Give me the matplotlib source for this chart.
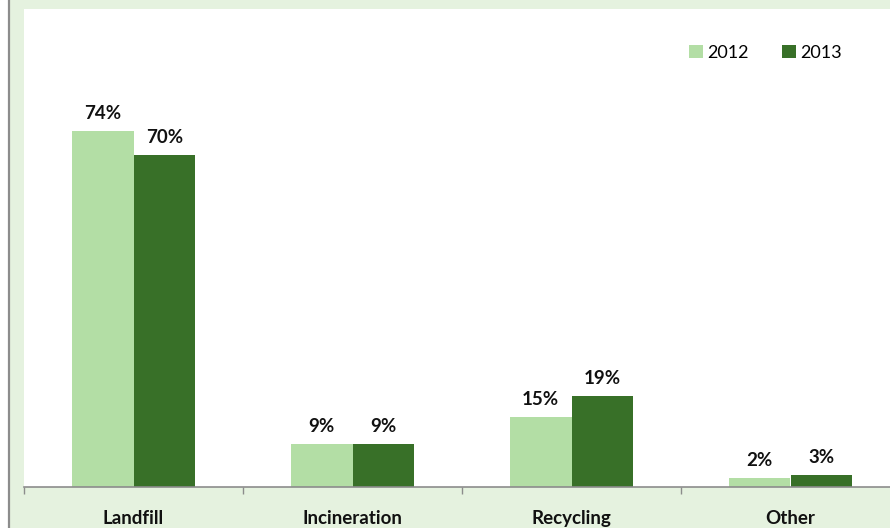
import matplotlib
matplotlib.use("Agg")
import matplotlib.pyplot as plt
from matplotlib.lines import Line2D
from matplotlib.patches import Patch

categories = ["Landfill", "Incineration", "Recycling", "Other"]
years = ["2012", "2013"]
values_2012 = [74.4, 9.0, 14.6, 1.9]
values_2013 = [69.5, 9.0, 19.0, 2.6]
labels_2012 = ["74%", "9%", "15%", "2%"]
labels_2013 = ["70%", "9%", "19%", "3%"]

c2012 = "#b3dea5"
c2013 = "#387028"
bg = "#e5f2df"

W, H = 890, 528
fig = plt.figure(figsize=(W / 100, H / 100), dpi=100)
fig.patch.set_facecolor(bg)
font = ["Lato", "DejaVu Sans"]

# white strip at left and gray rule
fig.add_artist(plt.Rectangle((0, 0), 8 / W, 1, transform=fig.transFigure, color="white", zorder=0))
fig.add_artist(Line2D([9 / W, 9 / W], [0, 1], transform=fig.transFigure, color="#8c8c8c", lw=1.6))

ax = fig.add_axes([24 / W, (H - 487) / H, 876 / W, 478 / H])
ax.set_facecolor("white")

x = list(range(len(categories)))
bw = 0.283
b1 = ax.bar([i - bw / 2 for i in x], values_2012, width=bw, color=c2012, label=years[0])
b2 = ax.bar([i + bw / 2 for i in x], values_2013, width=bw, color=c2013, label=years[1])

for bars, labs in ((b1, labels_2012), (b2, labels_2013)):
    for rect, lab in zip(bars, labs):
        ax.annotate(lab, (rect.get_x() + rect.get_width() / 2, rect.get_height()),
                    xytext=(0, 6.5), textcoords="offset points", ha="center", va="bottom",
                    fontsize=13.5, fontweight="bold", family=font, color="#111111")

ax.set_xlim(-0.5, len(categories) - 0.5)
ax.set_ylim(0, 100)
ax.set_yticks([])
for s in ("top", "right", "left"):
    ax.spines[s].set_visible(False)
ax.spines["bottom"].set_color("#8c8c8c")
ax.spines["bottom"].set_linewidth(1.2)
ax.set_xticks([i - 0.5 for i in range(len(categories) + 1)])
ax.set_xticklabels([])
ax.tick_params(axis="x", direction="out", length=5, width=1, color="#8c8c8c")

for i, c in enumerate(categories):
    ax.annotate(c, (i, 0), xycoords=("data", "axes fraction"), xytext=(0, -22.5),
                textcoords="offset points", ha="center", va="center",
                fontsize=13.5, fontweight="bold", family=font, color="#111111", annotation_clip=False)

handles = [Patch(facecolor=c2012, label=years[0]), Patch(facecolor=c2013, label=years[1])]
leg = fig.legend(handles=handles, loc="center left", bbox_to_anchor=(673 / W, 1 - 53 / H),
                 ncol=2, frameon=False, handlelength=0.75, handleheight=0.75,
                 handletextpad=0.25, columnspacing=1.85, prop={"family": font, "size": 13})

fig.savefig("out.png", dpi=100, facecolor=bg)
